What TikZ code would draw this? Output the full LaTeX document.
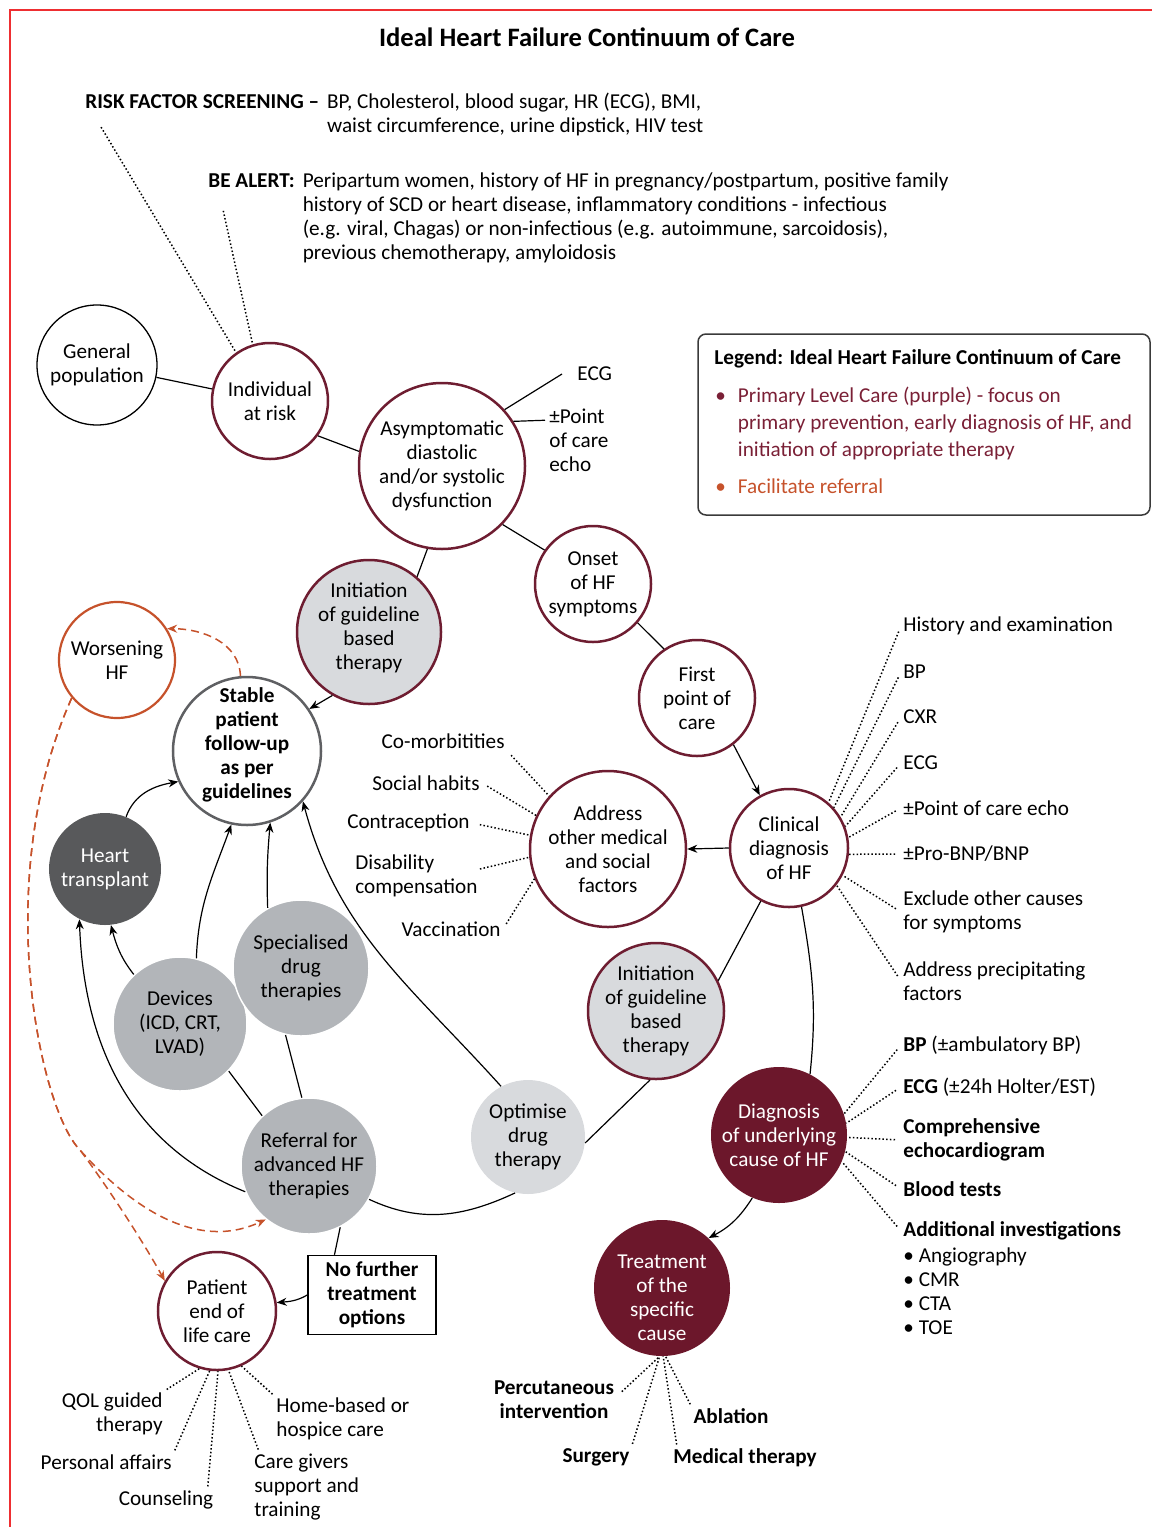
\documentclass[tikz,border=0pt]{standalone}
\usepackage{fontspec}
\setmainfont{Carlito}
\usetikzlibrary{arrows.meta}

\definecolor{hfpurple}{HTML}{6E1D31}
\definecolor{hffill}{HTML}{6C172B}
\definecolor{hforange}{HTML}{C6522B}
\definecolor{hfdark}{HTML}{58595B}
\definecolor{hfgray}{HTML}{B2B5B9}
\definecolor{hflight}{HTML}{D8DADD}
\definecolor{hfring}{HTML}{5F6063}
\definecolor{framered}{HTML}{EE2E31}
\definecolor{legpurple}{HTML}{7A2036}
\definecolor{legline}{HTML}{3A3A3A}

\newcommand{\hffont}{\fontsize{10.6bp}{12bp}\selectfont}

\tikzset{
  stage/.style={circle, inner sep=0pt, align=center, font=\hffont},
  stagetext/.style={align=center, inner sep=0pt},
  ring/.style={stage, draw=hfpurple, line width=1.25bp},
  greystage/.style={stage, fill=hfgray, draw=white, line width=0.75bp},
  lbl/.style={inner sep=1bp, font=\hffont},
  lblb/.style={inner sep=1bp, font=\hffont\bfseries},
  link/.style={line width=0.6bp},
  arr/.style={link, ->},
  dotline/.style={line width=0.75bp, dash pattern=on 0.75bp off 1.1bp, shorten <=3bp},
  referral/.style={hforange, line width=0.75bp, dash pattern=on 4bp off 2.5bp, ->},
}

\begin{document}
\begin{tikzpicture}[x=0.5bp, y=-0.5bp, >={Stealth[length=5bp,width=4bp]}]
	\useasboundingbox (0,0) rectangle (1152,1527);
	\draw[framered, line width=1bp] (10,1527) -- (10,10) -- (1152,10);

	\node[font=\fontsize{13.3bp}{15bp}\selectfont\bfseries] (title) at (587,37) {Ideal Heart Failure Continuum of Care};

	% screening texts
	\node[lbl, anchor=west, inner sep=0pt] (risk) at (85,116) {\begin{tabular}{@{}l@{\hspace{4bp}}l@{}}\textbf{RISK FACTOR SCREENING –} & BP, Cholesterol, blood sugar, HR (ECG), BMI,\\ & waist circumference, urine dipstick, HIV test\end{tabular}};
	\node[lbl, anchor=west, inner sep=0pt] (alert) at (208,219) {\begin{tabular}{@{}l@{\hspace{4bp}}l@{}}\textbf{BE ALERT:} & Peripartum women, history of HF in pregnancy/postpartum, positive family\\ & history of SCD or heart disease, inflammatory conditions - infectious\\ & (e.g. viral, Chagas) or non-infectious (e.g. autoimmune, sarcoidosis),\\ & previous chemotherapy, amyloidosis\end{tabular}};
	\coordinate (riskdot) at (98,122);
	\coordinate (alertdot) at (222,205);

	% legend
	\node[draw=legline, rounded corners=4bp, line width=0.75bp, minimum width=226bp, minimum height=90.5bp] (legend) at (924,424.5) {};
	\node[lblb, anchor=west] (legtitle) at (712,359) {Legend: Ideal Heart Failure Continuum of Care};
	\node[lbl, anchor=west, inner sep=0pt, text=legpurple] (legprim) at (715,424.4) {\renewcommand{\arraystretch}{1.125}\begin{tabular}{@{}l@{\hspace{6bp}}l@{}}• & Primary Level Care (purple) - focus on\\ & primary prevention, early diagnosis of HF, and\\ & initiation of appropriate therapy\end{tabular}};
	\node[lbl, anchor=west, inner sep=0pt, text=hforange] (legref) at (715,488.4) {\renewcommand{\arraystretch}{1.125}\begin{tabular}{@{}l@{\hspace{6bp}}l@{}}• & Facilitate referral\end{tabular}};

	% stages
	\node[stage, draw=black, line width=0.65bp, minimum size=60bp] (genpop) at (97,365) {General\\population};
	\node[ring, minimum size=58bp] (ind) at (270,401) {Individual\\at risk};
	\node[ring, minimum size=83bp] (asym) at (442,466) {Asymptomatic\\diastolic\\and/or systolic\\dysfunction};
	\node[ring, minimum size=58bp] (onset) at (593,584) {Onset\\of HF\\symptoms};
	\node[ring, minimum size=58bp] (first) at (697,698) {First\\point of\\care};
	\node[ring, minimum size=59bp] (clin) at (789,848) {Clinical\\diagnosis\\of HF};
	\node[ring, minimum size=78bp] (addr) at (608,849) {Address\\other medical\\and social\\factors};
	\node[ring, fill=hflight, minimum size=72bp, label={[stagetext, font=\hffont, yshift=2bp]center:{Initiation\\of guideline\\based\\therapy}}] (initA) at (369,632) {};
	\node[stage, draw=hfring, line width=1.25bp, minimum size=74bp, label={[stagetext, font=\hffont\bfseries, yshift=3bp]center:{Stable\\patient\\follow-up\\as per\\guidelines}}] (stable) at (247,751) {};
	\node[stage, draw=hforange, line width=1.1bp, minimum size=58bp] (wors) at (117,660) {Worsening\\HF};
	\node[stage, fill=hfdark, text=white, minimum size=56bp] (htx) at (105,869) {Heart\\transplant};
	\node[greystage, minimum size=67bp] (dev) at (180,1024) {Devices\\(ICD, CRT,\\LVAD)};
	\node[greystage, minimum size=68bp] (spec) at (301,968) {Specialised\\drug\\therapies};
	\node[greystage, minimum size=68bp] (ref) at (309,1166) {Referral for\\advanced HF\\therapies};
	\node[stage, fill=hflight, minimum size=57bp] (opt) at (528,1137) {Optimise\\drug\\therapy};
	\node[ring, fill=hflight, minimum size=68bp] (initB) at (656,1011) {Initiation\\of guideline\\based\\therapy};
	\node[stage, fill=hffill, text=white, minimum size=68bp] (diag) at (779,1135) {Diagnosis\\of underlying\\cause of HF};
	\node[stage, fill=hffill, minimum size=68bp, label={[stagetext, font=\hffont, text=white, yshift=-5bp]center:{Treatment\\of the\\specific\\cause}}] (treat) at (662,1288) {};
	\node[ring, minimum size=59bp] (eol) at (217,1311) {Patient\\end of\\life care};
	\node[draw, line width=0.75bp, align=center, font=\hffont\bfseries, minimum width=64bp, minimum height=39.5bp, inner sep=0pt] (nofurther) at (372,1295) {No further\\treatment\\options};

	% side labels
	\node[lbl, anchor=west] (ecgA) at (575,374) {ECG};
	\node[lbl, anchor=west, align=left] (pocA) at (547,440) {±Point\\of care\\echo};

	\node[lbl, anchor=east] (comorb) at (507,741) {Co-morbitities};
	\node[lbl, anchor=east] (social) at (482,783) {Social habits};
	\node[lbl, anchor=east] (contra) at (472,823) {Contraception};
	\node[lbl, anchor=west, align=left] (disab) at (353,876) {Disability\\compensation};
	\node[lbl, anchor=east] (vacc) at (503,929) {Vaccination};

	\node[lbl, anchor=west] (hist) at (901,626) {History and examination};
	\node[lbl, anchor=west] (bp) at (901,672) {BP};
	\node[lbl, anchor=west] (cxr) at (901,717) {CXR};
	\node[lbl, anchor=west] (ecgB) at (901,763) {ECG};
	\node[lbl, anchor=west] (pocB) at (901,808) {±Point of care echo};
	\node[lbl, anchor=west] (bnp) at (901,854) {±Pro-BNP/BNP};
	\node[lbl, anchor=west, align=left] (excl) at (901,912) {Exclude other causes\\for symptoms};
	\node[lbl, anchor=west, align=left] (precip) at (901,981) {Address precipitating\\factors};

	\node[lbl, anchor=west] (dbp) at (901,1045) {\textbf{BP} (±ambulatory BP)};
	\node[lbl, anchor=west] (decg) at (901,1087) {\textbf{ECG} (±24h Holter/EST)};
	\node[lblb, anchor=west, align=left] (decho) at (901,1140) {Comprehensive\\echocardiogram};
	\node[lblb, anchor=west] (dblood) at (901,1189) {Blood tests};
	\node[lblb, anchor=west] (daddl) at (901,1231) {Additional investigations};
	\node[lbl, anchor=west, align=left] (dlist) at (901,1291) {• Angiography\\• CMR\\• CTA\\• TOE};

	\node[lblb, align=center] (perc) at (554,1400) {Percutaneous\\intervention};
	\node[lblb] (surg) at (596,1457) {Surgery};
	\node[lblb] (abl) at (731,1416) {Ablation};
	\node[lblb] (medth) at (745,1458) {Medical therapy};

	\node[lbl, anchor=east, align=right] (qol) at (165,1414) {QOL guided\\therapy};
	\node[lbl, anchor=east] (affairs) at (174,1462) {Personal affairs};
	\node[lbl] (counsel) at (166,1500) {Counseling};
	\node[lbl, anchor=west, align=left] (carers) at (252,1487) {Care givers\\support and\\training};
	\node[lbl, anchor=west, align=left] (hospice) at (274,1419) {Home-based or\\hospice care};

	% pathway
	\draw[link] (genpop) -- (ind);
	\draw[link] (ind.-36) -- (asym.170);
	\draw[link] (asym.42) -- ([xshift=-6.5bp]ecgA.west);
	\draw[link] (asym.32) -- ([shift={(-1bp,-7bp)}]pocA.north west);
	\draw[link] (asym.-44) -- (onset.145);
	\draw[link] (asym.260) -- (initA.49);
	\draw[link] (onset.-41) -- (first.124);
	\draw[arr] (first.-52) -- (clin.119);
	\draw[arr] (clin.west) -- (addr.east);
	\draw[link] (clin.242) -- (initB.26);
	\draw[link] (clin.-78) to[out=-80,in=84] (diag.63);
	\draw[link] (initB.265) -- (opt.-6);
	\draw[arr] (diag.247) to[bend left=15] (treat.47);
	\draw[arr] (initA.240) -- (stable.34);

	% advanced care
	\draw[arr] (htx.68) to[out=70,in=190] (stable.204);
	\draw[arr] (dev.76) to[out=88,in=250] (stable.258);
	\draw[arr] (spec.119) to[out=92,in=265] (stable.-72);
	\draw[arr] (opt.118) to[out=132,in=-75] (stable.-42);
	\draw[arr] (ref.202) to[out=158,in=-88] (htx.243);
	\draw[arr] (dev.133) to[out=128,in=-75] (htx.-84);
	\draw[link] (ref.96) -- (spec.257);
	\draw[link] (ref.133) -- (dev.-44);
	\draw[link] (ref.-29) to[out=-25,in=205] (opt.257);
	\draw[link] (ref.-63) -- (nofurther.133);
	\draw[arr] (nofurther.west) to[out=210,in=5] (eol.8);

	% referral (dashed)
	\draw[referral] (stable.95) to[out=92,in=0] (wors.32);
	\draw[referral] (wors.220) .. controls (-10,880) and (40,1110) .. (80,1150) .. controls (110,1190) and (145,1245) .. (eol.150);
	\draw[referral] (wors.220) .. controls (-10,880) and (40,1110) .. (80,1150) .. controls (120,1195) and (190,1255) .. (ref.231);

	% dotted items
	\draw[dotline] (riskdot) -- (ind.125);
	\draw[dotline] (alertdot) -- (ind.107);

	\draw[dotline] (comorb.south east) -- (addr.138);
	\draw[dotline] (social.east) -- (addr.155);
	\draw[dotline, shorten <=4bp] (contra.east) -- (addr.170);
	\draw[dotline, shorten <=0bp] ([yshift=3.5bp]disab.east) -- (addr.186);
	\draw[dotline] (vacc.east) -- (addr.202);

	\draw[dotline] (hist.west) -- (clin.49);
	\draw[dotline] (bp.west) -- (clin.42);
	\draw[dotline] (cxr.west) -- (clin.31);
	\draw[dotline] (ecgB.west) -- (clin.21);
	\draw[dotline] (pocB.west) -- (clin.10);
	\draw[dotline] (bnp.west) -- (clin.-6);
	\draw[dotline] (excl.west) -- (clin.-27);
	\draw[dotline] (precip.west) -- (clin.-38);

	\draw[dotline] (dbp.west) -- (diag.18);
	\draw[dotline] (decg.west) -- (diag.10);
	\draw[dotline] (decho.west) -- (diag.-2);
	\draw[dotline] (dblood.west) -- (diag.-14);
	\draw[dotline] (daddl.west) -- (diag.-23);

	\draw[dotline, shorten <=1bp] ([shift={(2bp,3.5bp)}]perc.east) -- (treat.268);
	\draw[dotline, shorten <=1bp] (surg.north east) -- (treat.268);
	\draw[dotline, shorten <=1bp] (abl.north west) -- (treat.273);
	\draw[dotline, shorten <=1bp] ([xshift=3bp]medth.north west) -- (treat.271);

	\draw[dotline, shorten <=1bp] (qol.north east) -- (eol.253);
	\draw[dotline, shorten <=1bp] (affairs.north east) -- (eol.263);
	\draw[dotline, shorten <=1bp] ([xshift=-4bp]counsel.north east) -- (eol.271);
	\draw[dotline, shorten <=1bp] ([xshift=3.5bp]carers.north west) -- (eol.281);
	\draw[dotline, shorten <=1bp] (hospice.north west) -- (eol.294);
\end{tikzpicture}
\end{document}
